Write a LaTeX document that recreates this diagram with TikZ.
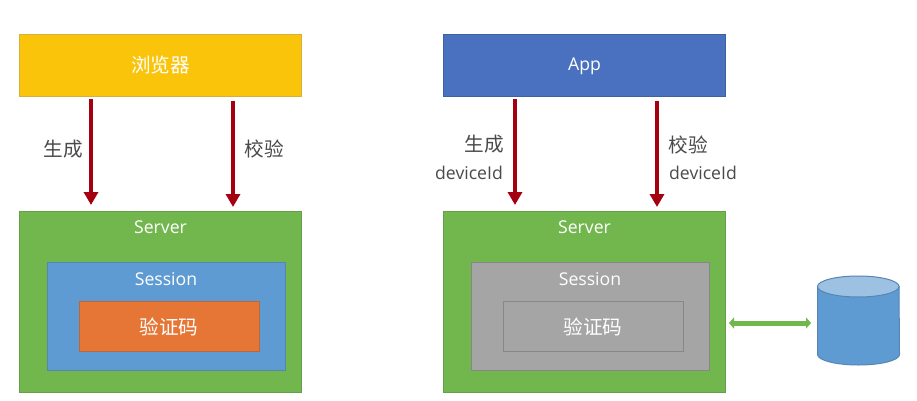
\documentclass[tikz,border=0pt]{standalone}
\usepackage{fontspec}
\setmainfont{Open Sans}[Scale=0.98]
\newfontfamily\cjk{Noto Sans CJK SC}[Scale=1.09]
\usetikzlibrary{arrows.meta}
\definecolor{cYellow}{HTML}{FAC40A}
\definecolor{cYellowE}{HTML}{D9AE3A}
\definecolor{cBlue}{HTML}{4A71BF}
\definecolor{cGreen}{HTML}{72B74E}
\definecolor{cGreenE}{HTML}{659F49}
\definecolor{cSess}{HTML}{5F9BD3}
\definecolor{cSessE}{HTML}{5585B3}
\definecolor{cOrange}{HTML}{E57636}
\definecolor{cOrangeE}{HTML}{B9683C}
\definecolor{cGray}{HTML}{A5A5A5}
\definecolor{cGrayE}{HTML}{878787}
\definecolor{cRed}{HTML}{A50010}
\definecolor{cTxt}{HTML}{4A4A4A}
\definecolor{cTop}{HTML}{9DC1E3}
\tikzset{
  x=1pt,y=-1pt,
  boxn/.style={anchor=north west,inner sep=0pt,outer sep=0pt,line width=1pt},
  ttl/.style={text=white,inner sep=0pt,font=\fontsize{18}{20}\selectfont},
  lbl/.style={text=cTxt,inner sep=0pt,font=\fontsize{18}{20}\selectfont},
  redarrow/.style={draw=cRed,line width=4.5pt,-{Triangle[length=13pt,width=14pt]}},
  greenarrow/.style={draw=cGreen,line width=5pt,{Triangle[length=5pt,width=11pt]}-{Triangle[length=5pt,width=11pt]}},
}
\begin{document}
\begin{tikzpicture}
\useasboundingbox (0,0) rectangle (917,401);
\fill[white] (0,0) rectangle (917,401);
% left
\node[boxn,fill=cYellow,draw=cYellowE,minimum width=282pt,minimum height=62pt] (browser) at (19.5,34.5) {};
\node[ttl] (browserT) at (160.5,65) {\cjk 浏览器};
\node[boxn,fill=cGreen,draw=cGreenE,minimum width=282pt,minimum height=180.5pt] (serverL) at (19.5,211.5) {};
\node[ttl] (serverLT) at (160.5,227) {Server};
\node[boxn,fill=cSess,draw=cSessE,minimum width=237.5pt,minimum height=107.5pt] (sessL) at (47.5,262.5) {};
\node[ttl] (sessLT) at (166,279) {Session};
\node[boxn,fill=cOrange,draw=cOrangeE,minimum width=179.5pt,minimum height=49.5pt] (codeL) at (79.5,301.5) {};
\node[ttl] (codeLT) at (169,326.5) {\cjk 验证码};
% right
\node[boxn,fill=cBlue,draw=cBlue!85!black,minimum width=282pt,minimum height=62pt] (app) at (443.5,34.5) {};
\node[ttl] (appT) at (584.5,66) {App};
\node[boxn,fill=cGreen,draw=cGreenE,minimum width=282pt,minimum height=180.5pt] (serverR) at (443.5,211.5) {};
\node[ttl] (serverRT) at (584.5,227) {Server};
\node[boxn,fill=cGray,draw=cGrayE,minimum width=237.5pt,minimum height=107.5pt] (sessR) at (471.5,262.5) {};
\node[ttl] (sessRT) at (590,279) {Session};
\node[boxn,fill=cGray,draw=cGrayE,minimum width=179.5pt,minimum height=49.5pt] (codeR) at (503.5,301.5) {};
\node[ttl] (codeRT) at (593,326.5) {\cjk 验证码};
% arrow ends
\coordinate (a1s) at (91,99);  \coordinate (a1e) at (91,205);
\coordinate (a2s) at (233,101); \coordinate (a2e) at (233,207);
\coordinate (a3s) at (515,99);  \coordinate (a3e) at (515,205);
\coordinate (a4s) at (657,101); \coordinate (a4e) at (657,207);
\draw[redarrow] (a1s) -- (a1e);
\draw[redarrow] (a2s) -- (a2e);
\draw[redarrow] (a3s) -- (a3e);
\draw[redarrow] (a4s) -- (a4e);
\node[lbl] (l1) at (63,149) {\cjk 生成};
\node[lbl] (l2) at (264,149) {\cjk 校验};
\node[lbl] (l3) at (484,144) {\cjk 生成};
\node[lbl] (l3b) at (469,173) {deviceId};
\node[lbl] (l4) at (688,145) {\cjk 校验};
\node[lbl] (l4b) at (703,173) {deviceId};
% cylinder
\draw[draw=cSessE,line width=1pt,fill=cSess] (817.5,286.5) -- (817.5,354.5) arc[start angle=180,end angle=360,x radius=41,y radius=-10.5] -- (899,286.5) -- cycle;
\draw[draw=cSessE,line width=1pt,fill=cTop] (858.25,286.5) ellipse[x radius=40.75,y radius=10.5];
\coordinate (g1) at (729,323); \coordinate (g2) at (811,323);
\draw[greenarrow] (g1) -- (g2);
\end{tikzpicture}
\end{document}
